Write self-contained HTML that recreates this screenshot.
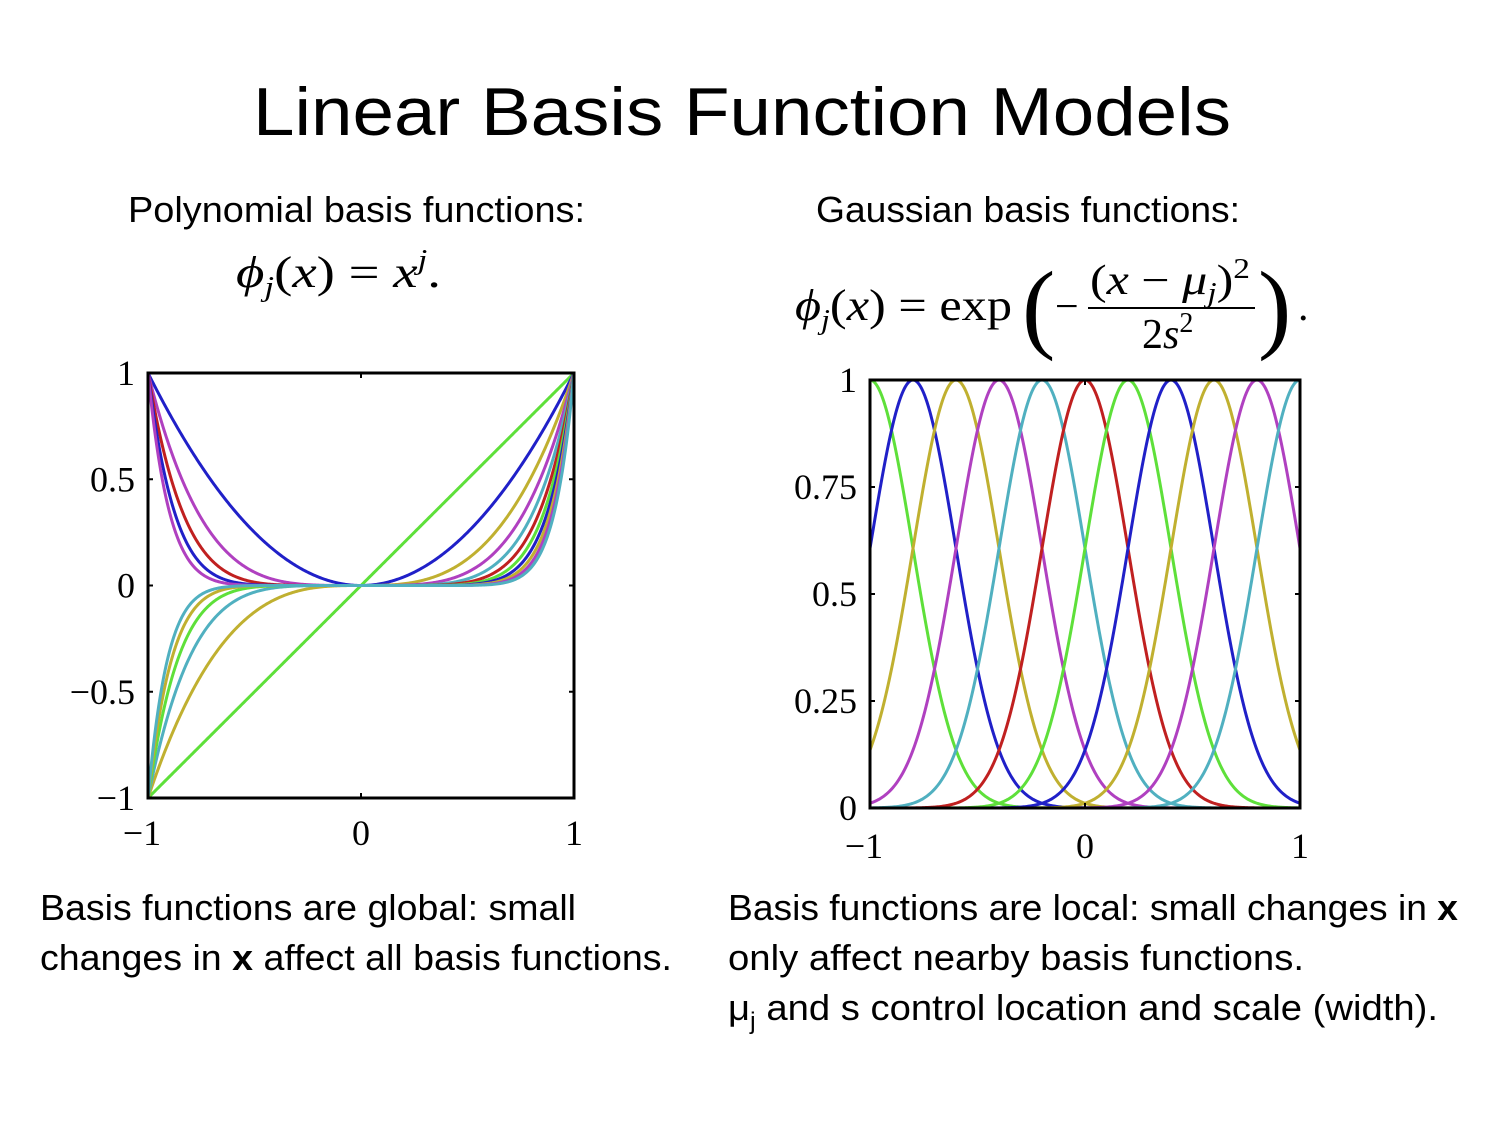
<!DOCTYPE html>
<html><head><meta charset="utf-8"><style>
body{margin:0;background:#fff}
svg{display:block}
.t{font-family:"Liberation Sans",sans-serif;fill:#000}
.m{font-family:"Liberation Serif",serif;fill:#000}
</style></head><body>
<svg id="s" width="1500" height="1125" viewBox="0 0 1500 1125">
<text class="t" x="742" y="135" font-size="68" text-anchor="middle" textLength="978" lengthAdjust="spacingAndGlyphs">Linear Basis Function Models</text>
<text class="t" x="128" y="222" font-size="36" textLength="457" lengthAdjust="spacingAndGlyphs">Polynomial basis functions:</text>
<text class="t" x="816" y="222" font-size="36" textLength="424" lengthAdjust="spacingAndGlyphs">Gaussian basis functions:</text>
<text class="m" x="236" y="287" font-size="44" textLength="205" lengthAdjust="spacingAndGlyphs"><tspan font-style="italic">ϕ</tspan><tspan font-style="italic" font-size="28" dy="9">j</tspan><tspan dy="-9">(</tspan><tspan font-style="italic">x</tspan>) = <tspan font-style="italic">x</tspan><tspan font-style="italic" font-size="28" dy="-18">j</tspan><tspan dy="18">.</tspan></text>
<g>
<text class="m" x="795" y="320" font-size="44" textLength="217" lengthAdjust="spacingAndGlyphs"><tspan font-style="italic">ϕ</tspan><tspan font-style="italic" font-size="28" dy="9">j</tspan><tspan dy="-9">(</tspan><tspan font-style="italic">x</tspan>) = exp</text>
<text class="m" x="1022" y="340" font-size="100">(</text>
<text class="m" x="1055" y="320" font-size="42">−</text>
<text class="m" x="1090" y="294" font-size="42" textLength="160" lengthAdjust="spacingAndGlyphs">(<tspan font-style="italic">x</tspan> − <tspan font-style="italic">μ</tspan><tspan font-style="italic" font-size="28" dy="8">j</tspan><tspan dy="-8">)</tspan><tspan font-size="28" dy="-16">2</tspan></text>
<line x1="1088" y1="308" x2="1255" y2="308" stroke="#000" stroke-width="2"/>
<text class="m" x="1142" y="348" font-size="42">2<tspan font-style="italic">s</tspan><tspan font-size="28" dy="-16">2</tspan></text>
<text class="m" x="1258" y="340" font-size="100">)</text>
<text class="m" x="1298" y="320" font-size="42">.</text>
</g>
<g id="left"></g>
<g id="right"></g>
<g>
<text class="t" x="40" y="920" font-size="36" textLength="536" lengthAdjust="spacingAndGlyphs">Basis functions are global: small</text>
<text class="t" x="40" y="970" font-size="36" textLength="632" lengthAdjust="spacingAndGlyphs">changes in <tspan font-weight="bold">x</tspan> affect all basis functions.</text>
</g>
<g>
<text class="t" x="728" y="920" font-size="36" textLength="730" lengthAdjust="spacingAndGlyphs">Basis functions are local: small changes in <tspan font-weight="bold">x</tspan></text>
<text class="t" x="728" y="970" font-size="36" textLength="576" lengthAdjust="spacingAndGlyphs">only affect nearby basis functions.</text>
<text class="t" x="728" y="1020" font-size="36" textLength="710" lengthAdjust="spacingAndGlyphs">μ<tspan font-size="24" dy="9">j</tspan><tspan dy="-9"> and s control location and scale (width).</tspan></text>
</g>
</svg>
<script>
const polyExponents=[1,2,3,4,5,6,7,8,9,10,11];
const gaussCenters=[-1,-0.8,-0.6,-0.4,-0.2,0,0.2,0.4,0.6,0.8,1];
const gaussScale=0.2;
const palette=["#c02020","#5ee03a","#2020c8","#c0b030","#b040c0","#50b0c0"];
const polyXTicks=[-1,0,1], polyXLabels=["−1","0","1"];
const polyYTicks=[1,0.5,0,-0.5,-1], polyYLabels=["1","0.5","0","−0.5","−1"];
const gaussXTicks=[-1,0,1], gaussXLabels=["−1","0","1"];
const gaussYTicks=[1,0.75,0.5,0.25,0], gaussYLabels=["1","0.75","0.5","0.25","0"];
const NS="http://www.w3.org/2000/svg";
function mk(tag,attrs,parent){const e=document.createElementNS(NS,tag);for(const k in attrs)e.setAttribute(k,attrs[k]);parent.appendChild(e);return e;}
function chart(g,box,ymin,ymax,fns,colors,xt,xl,yt,yl,xly,names){
 const sx=v=>box.x0+(v+1)/2*(box.x1-box.x0);
 const sy=v=>box.y1-(v-ymin)/(ymax-ymin)*(box.y1-box.y0);
 fns.forEach((f,i)=>{let d="";for(let k=0;k<=400;k++){const x=-1+2*k/400;d+=(k?"L":"M")+sx(x).toFixed(2)+" "+sy(f(x)).toFixed(2);}
  const p=mk("path",{d:d,fill:"none",stroke:colors[i],"stroke-width":3},g);
  
  });
 const r=mk("rect",{x:box.x0,y:box.y0,width:box.x1-box.x0,height:box.y1-box.y0,fill:"none",stroke:"#000","stroke-width":3},g);
 
 
 xt.forEach((v,i)=>{const X=sx(v);mk("line",{x1:X,x2:X,y1:box.y1,y2:box.y1-5,stroke:"#000","stroke-width":2},g);mk("line",{x1:X,x2:X,y1:box.y0,y2:box.y0+5,stroke:"#000","stroke-width":2},g);
  const t=mk("text",{class:"m",x:X-(xl[i].length>1?6:0),y:xly,"font-size":36,"text-anchor":"middle"},g);t.textContent=xl[i];
  
  });
 yt.forEach((v,i)=>{const Y=sy(v);mk("line",{x1:box.x0,x2:box.x0+5,y1:Y,y2:Y,stroke:"#000","stroke-width":2},g);mk("line",{x1:box.x1,x2:box.x1-5,y1:Y,y2:Y,stroke:"#000","stroke-width":2},g);
  const t=mk("text",{class:"m",x:box.x0-13,y:Y+12,"font-size":36,"text-anchor":"end"},g);t.textContent=yl[i];
  
  });
}
chart(document.getElementById("left"),{x0:148,x1:574,y0:373,y1:798},-1,1,
 polyExponents.map(j=>x=>Math.pow(x,j)),polyExponents.map(j=>palette[j%6]),
 polyXTicks,polyXLabels,polyYTicks,polyYLabels,845,polyExponents.map(j=>'poly-curve-'+j));
chart(document.getElementById("right"),{x0:870,x1:1300,y0:380,y1:808},0,1,
 gaussCenters.map(m=>x=>Math.exp(-(x-m)*(x-m)/(2*gaussScale*gaussScale))),gaussCenters.map(m=>palette[((Math.round(m*5))%6+6)%6]),
 gaussXTicks,gaussXLabels,gaussYTicks,gaussYLabels,858,gaussCenters.map((m,i)=>'gauss-curve-'+i));
</script>
</body></html>
